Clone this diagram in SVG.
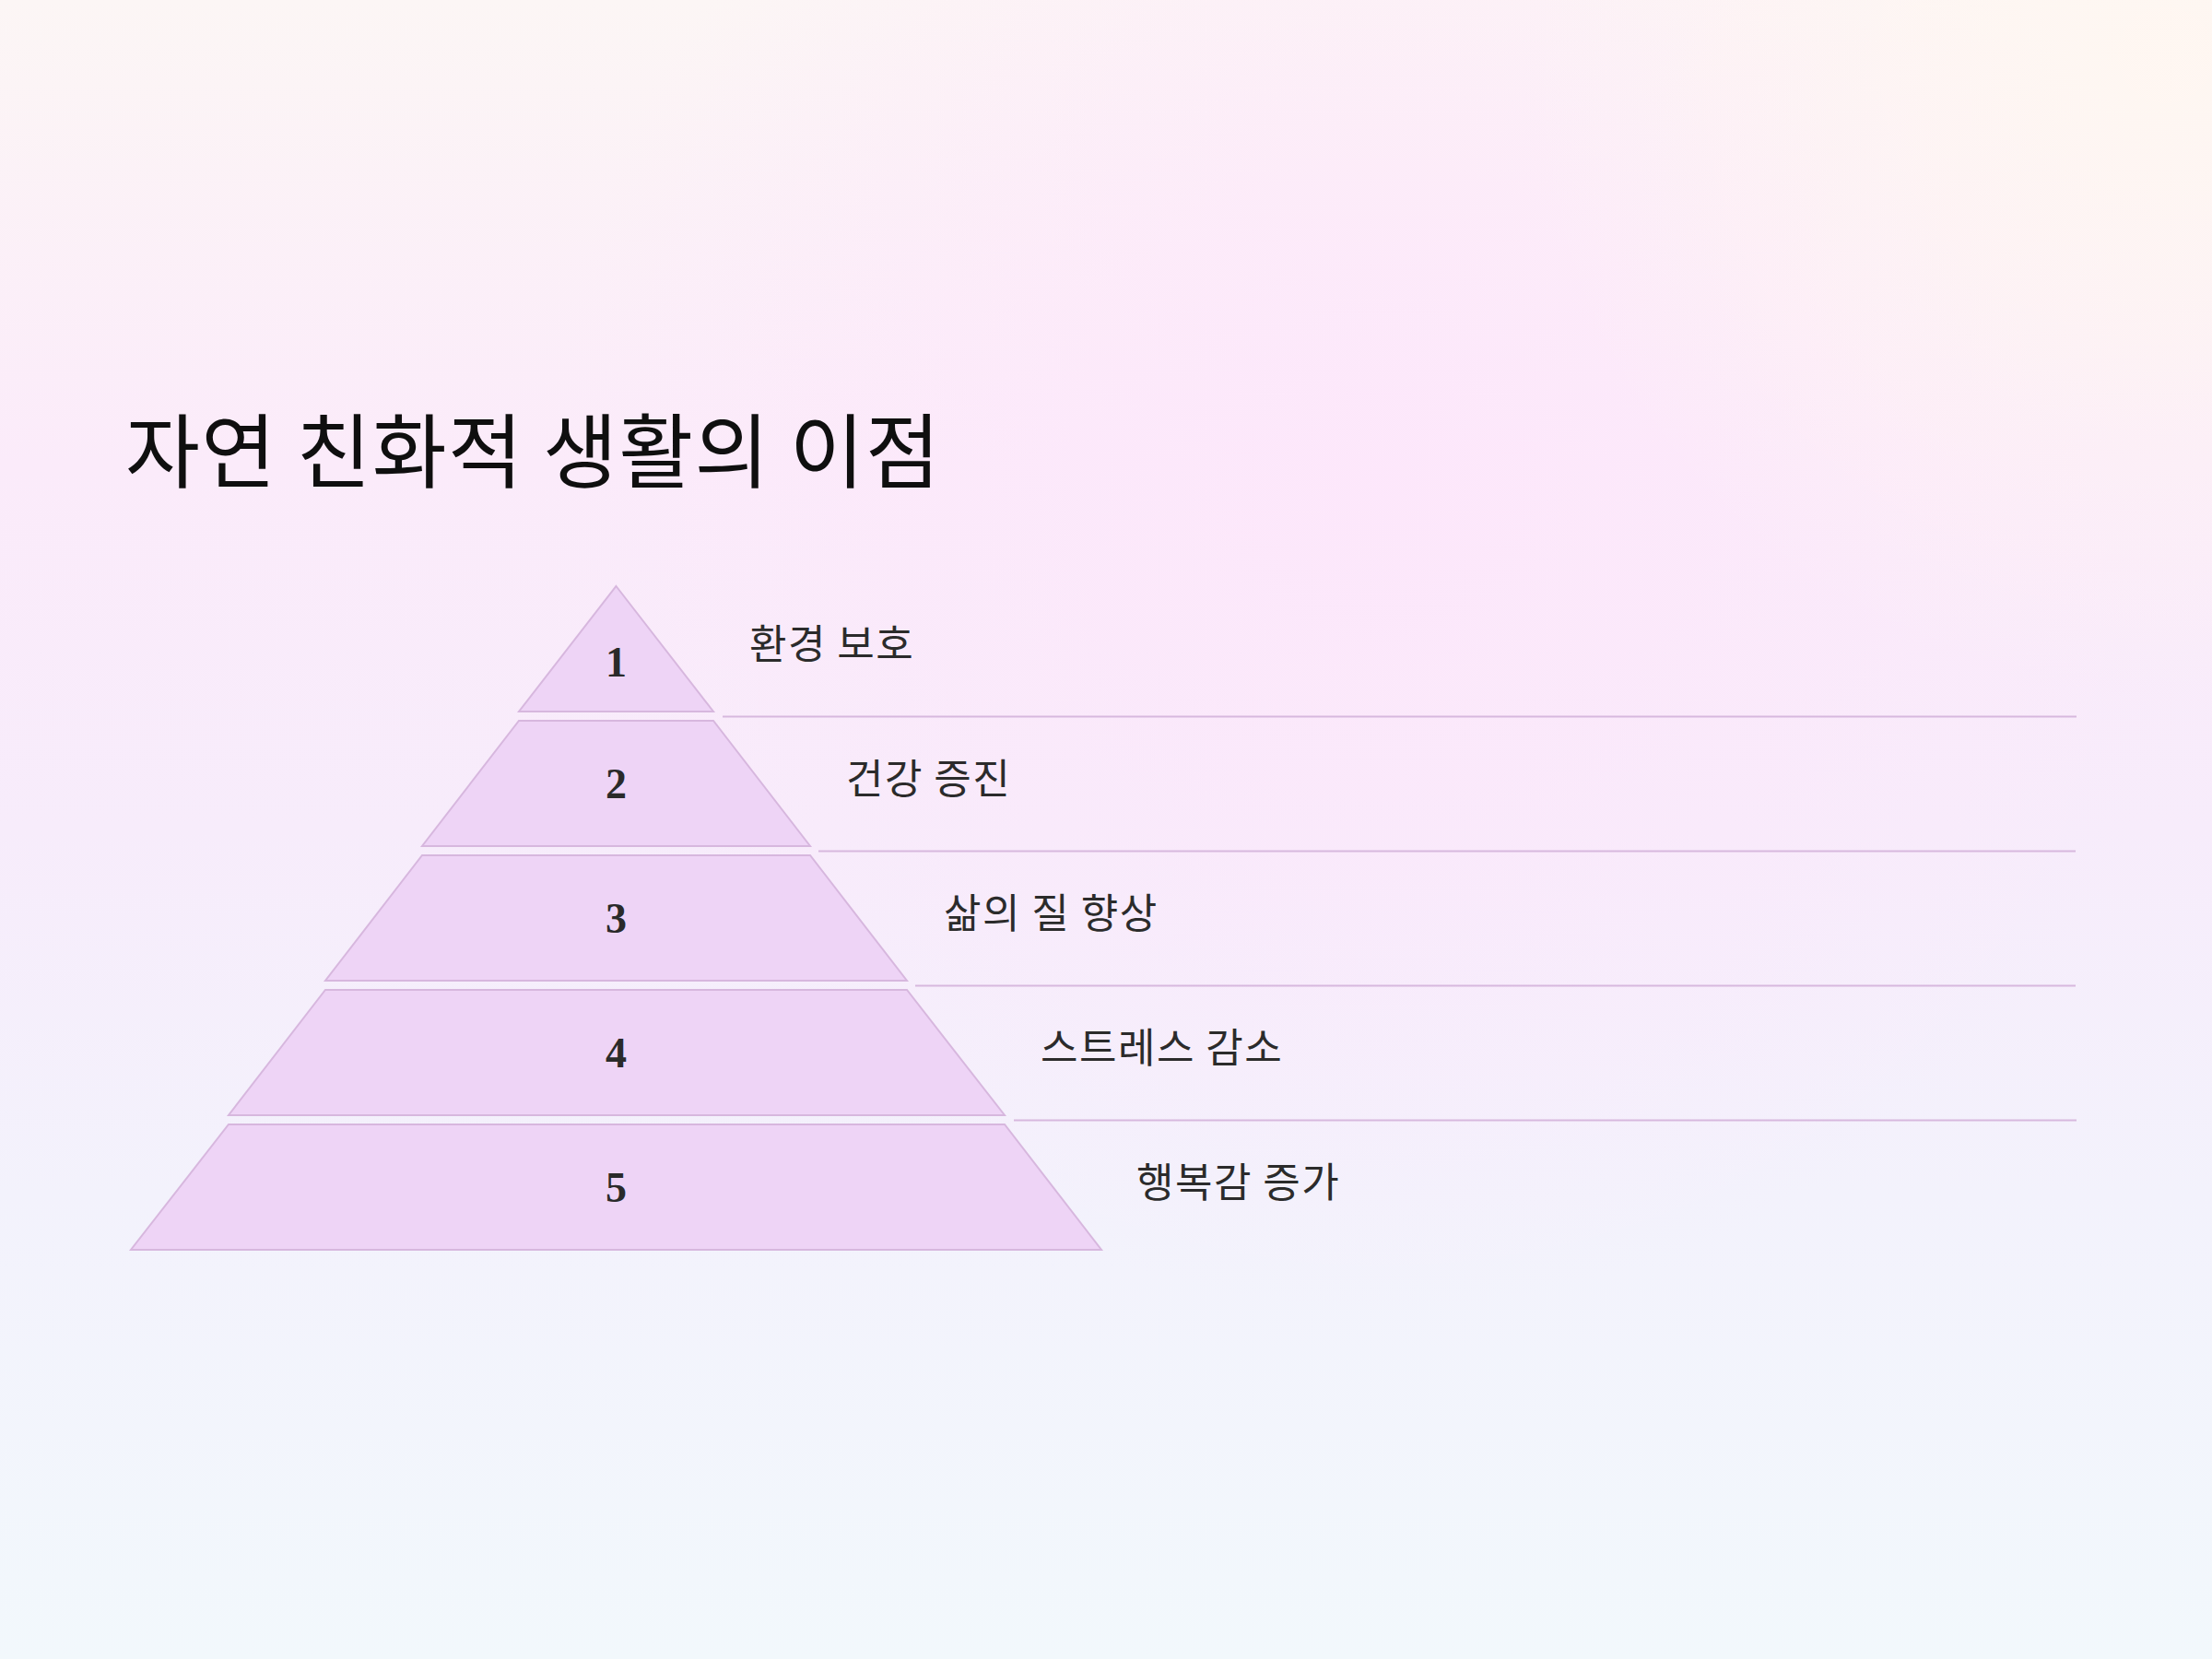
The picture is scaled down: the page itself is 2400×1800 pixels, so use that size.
<svg xmlns="http://www.w3.org/2000/svg" width="2400" height="1800" viewBox="0 0 2400 1800">
  <defs>
    <linearGradient id="bg" x1="0" y1="0" x2="0" y2="1">
      <stop offset="0" stop-color="#fcf6f5"/>
      <stop offset="0.28" stop-color="#fbebfa"/>
      <stop offset="0.5" stop-color="#f7ecfb"/>
      <stop offset="0.72" stop-color="#f3f2fc"/>
      <stop offset="1" stop-color="#f2f8fc"/>
    </linearGradient>
    <radialGradient id="pink" cx="1500" cy="520" r="900" gradientUnits="userSpaceOnUse">
      <stop offset="0" stop-color="#fde6fb" stop-opacity="0.8"/>
      <stop offset="1" stop-color="#fde6fb" stop-opacity="0"/>
    </radialGradient>
    <radialGradient id="peach" cx="2350" cy="60" r="700" gradientUnits="userSpaceOnUse">
      <stop offset="0" stop-color="#fff7f1" stop-opacity="0.9"/>
      <stop offset="1" stop-color="#fff7f1" stop-opacity="0"/>
    </radialGradient>
    <style>
      .lvl { fill: #eed4f6; stroke: #d7b7de; stroke-width: 2; stroke-linejoin: miter; }
      .num { font-family: "Liberation Serif", "DejaVu Serif", serif; font-weight: 700; font-size: 46px; fill: #2a2a2a; text-anchor: middle; }
      .lbl { font-family: "Noto Sans CJK KR", "Noto Sans", sans-serif; font-size: 44px; letter-spacing: 1.5px; fill: #2b2b2b; }
      .sep { stroke: #d7b8de; stroke-width: 2; fill: none; }
      .title { font-family: "Noto Sans CJK KR", "Noto Sans", sans-serif; font-size: 88px; fill: #0f0f0f; }
    </style>
  </defs>

  <rect x="0" y="0" width="2400" height="1800" fill="url(#bg)"/>
  <rect x="0" y="0" width="2400" height="1800" fill="url(#pink)"/>
  <rect x="0" y="0" width="2400" height="1800" fill="url(#peach)"/>

  <g id="title">
    <text class="title" x="136" y="522" textLength="884" lengthAdjust="spacing">자연 친화적 생활의 이점</text>
  </g>

  <g id="connectors">
    <line class="sep" x1="784" y1="777.5" x2="2253" y2="777.5"/>
    <line class="sep" x1="888" y1="923.5" x2="2252" y2="923.5"/>
    <line class="sep" x1="993" y1="1069.5" x2="2252" y2="1069.5"/>
    <line class="sep" x1="1100" y1="1215.5" x2="2253" y2="1215.5"/>
  </g>

  <g id="level1">
    <polygon class="lvl" points="668.5,636 774,772 563,772"/>
    <text class="num" x="668.5" y="734">1</text>
    <text class="lbl" x="813" y="715">환경 보호</text>
  </g>
  <g id="level2">
    <polygon class="lvl" points="563,782 774,782 879,918 458,918"/>
    <text class="num" x="668.5" y="866">2</text>
    <text class="lbl" x="918" y="861">건강 증진</text>
  </g>
  <g id="level3">
    <polygon class="lvl" points="458,928 879,928 984,1064 353,1064"/>
    <text class="num" x="668.5" y="1012">3</text>
    <text class="lbl" x="1024" y="1007">삶의 질 향상</text>
  </g>
  <g id="level4">
    <polygon class="lvl" points="353,1074 984,1074 1090,1210 248,1210"/>
    <text class="num" x="668.5" y="1158">4</text>
    <text class="lbl" x="1129" y="1153">스트레스 감소</text>
  </g>
  <g id="level5">
    <polygon class="lvl" points="248,1220 1090,1220 1195,1356 142,1356"/>
    <text class="num" x="668.5" y="1304">5</text>
    <text class="lbl" x="1233" y="1299">행복감 증가</text>
  </g>
</svg>
